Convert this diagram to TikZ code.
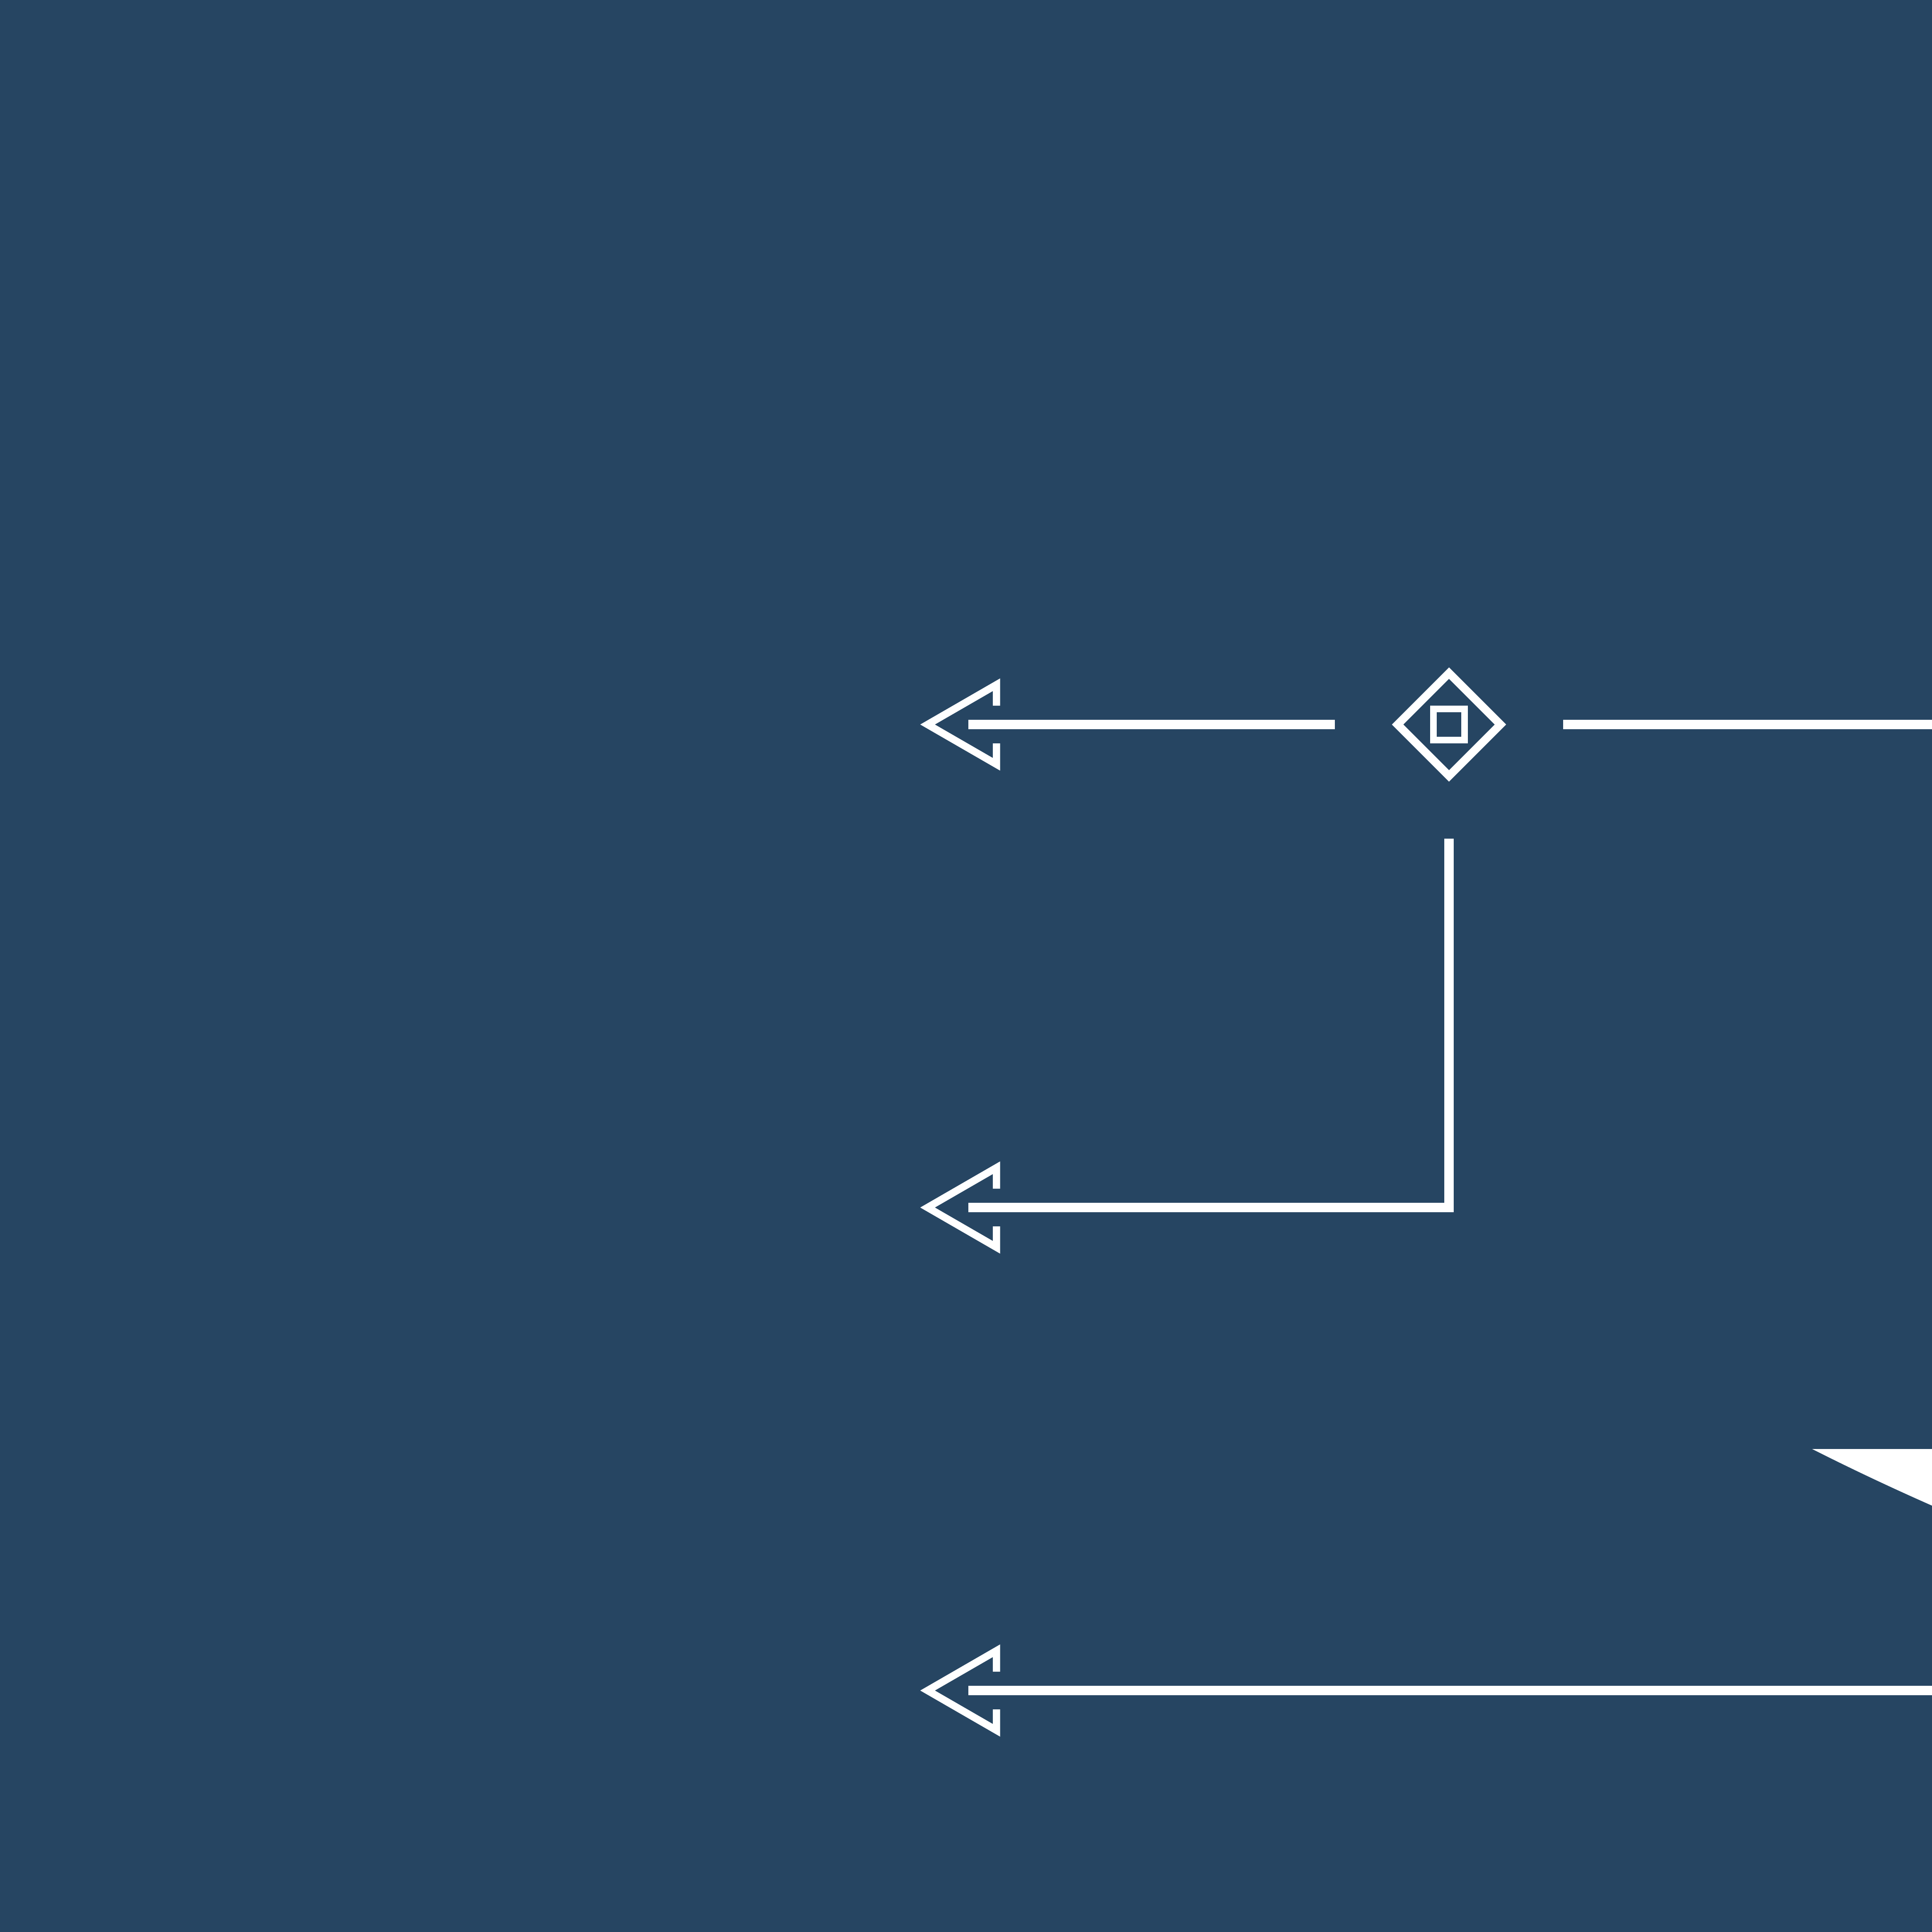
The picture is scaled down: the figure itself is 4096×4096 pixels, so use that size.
\documentclass[tikz,border=0pt]{standalone}
\usetikzlibrary{calc}
\definecolor{bgblue}{RGB}{38,69,98}
\tikzset{
  conn/.style={draw=white, line width=20pt, line cap=butt, line join=miter},
  headline/.style={draw=white, line width=15.5pt, line cap=butt, line join=miter},
  diamondline/.style={draw=white, line width=17pt, line join=miter},
  boxline/.style={draw=white, line width=14pt, line join=miter}
}
\newcommand{\openhead}[1]{%
  \draw[headline] ($(#1)+(59.5,-40)$) -- ($(#1)+(59.5,-84.3)$) -- ($(#1)+(-86.5,0)$) -- ($(#1)+(59.5,84.3)$) -- ($(#1)+(59.5,40)$);}
\begin{document}
\begin{tikzpicture}[x=1pt,y=-1pt]
  \useasboundingbox (0,0) rectangle (4096,4096);
  \clip (0,0) rectangle (4096,4096);
  \fill[bgblue] (0,0) rectangle (4096,4096);
  % named points
  \coordinate (c) at (3072,1536);
  \coordinate (aTop) at (2053,1536);
  \coordinate (aMid) at (2053,2560);
  \coordinate (aBot) at (2053,3584);
  \coordinate (cL) at (2830,1536);
  \coordinate (cR) at (3314,1536);
  \coordinate (cB) at (3072,1778);
  \coordinate (corner) at (3072,2560);
  \coordinate (eTop) at (4100,1536);
  \coordinate (eBot) at (4100,3584);
  % diamond with inner square
  \draw[diamondline] ($(c)+(0,-109)$) -- ($(c)+(109,0)$) -- ($(c)+(0,109)$) -- ($(c)+(-109,0)$) -- cycle;
  \draw[boxline] ($(c)+(-33,-33)$) rectangle ($(c)+(33,33)$);
  % connectors
  \draw[conn] (cL) -- (aTop);
  \draw[conn] (cR) -- (eTop);
  \draw[conn] (cB) -- (corner) -- (aMid);
  \draw[conn] (eBot) -- (aBot);
  % open arrow heads
  \openhead{aTop}
  \openhead{aMid}
  \openhead{aBot}
  % white shape at lower right
  \fill[white] (3842,3072) -- (4110,3072) -- (4110,3197) -- (4096,3192) .. controls (4010,3154) and (3925,3114) .. (3842,3072) -- cycle;
\end{tikzpicture}
\end{document}
